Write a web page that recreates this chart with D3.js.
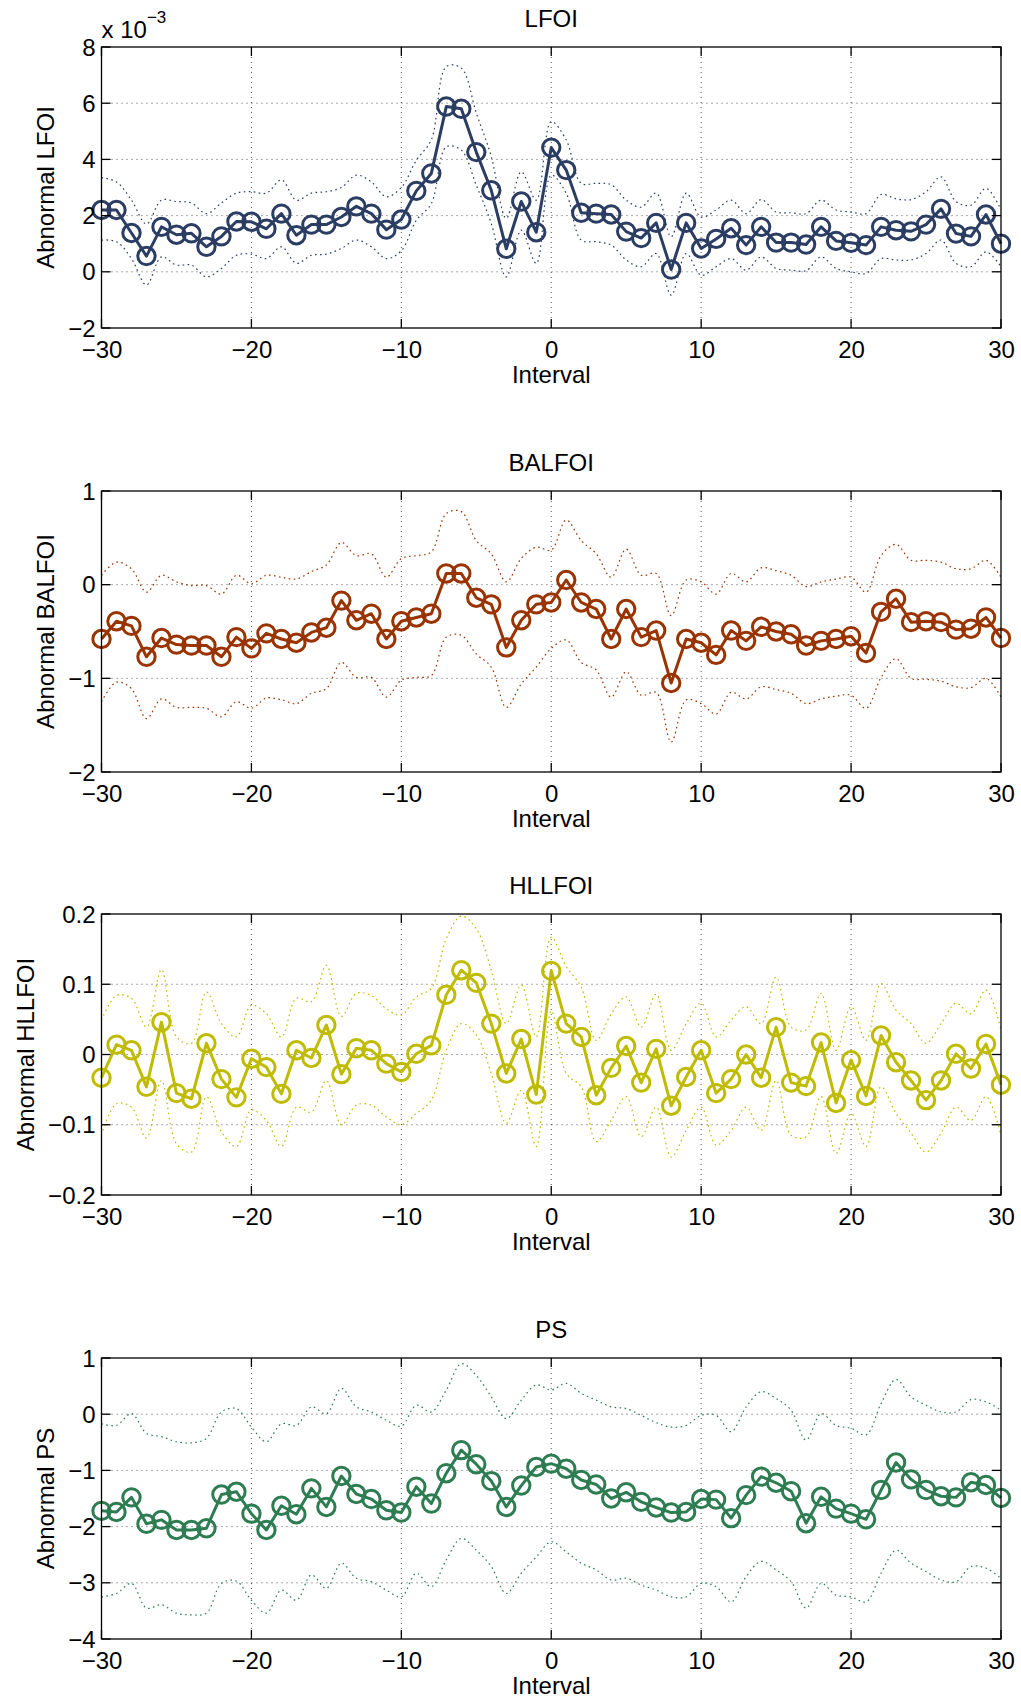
<!DOCTYPE html>
<html>
<head>
<meta charset="utf-8">
<script src="https://cdn.jsdelivr.net/npm/d3@7/dist/d3.min.js"></script>
<style>
  html, body { margin: 0; padding: 0; background: #fff; }
  svg text { font-family: "Liberation Sans", Arial, Helvetica, sans-serif; fill: #000; }
</style>
</head>
<body>
<svg id="fig" width="1021" height="1701"></svg>
<script>
// Interval axis shared by all four panels
const intervals = d3.range(-30, 31);
const xTicks = [-30, -20, -10, 0, 10, 20, 30];

// LFOI (values in units of 1e-3)
const lfoi = [2.2, 2.2, 1.38, 0.56, 1.6, 1.32, 1.37, 0.89, 1.26, 1.79, 1.78, 1.53, 2.07, 1.3, 1.68, 1.68,
  1.95, 2.33, 2.07, 1.5, 1.86, 2.88, 3.5, 5.88, 5.8, 4.26, 2.9, 0.82, 2.5, 1.41,
  4.42, 3.62, 2.1, 2.07, 2.04, 1.43, 1.2, 1.74, 0.08, 1.74, 0.83, 1.17, 1.55, 0.95, 1.6, 1.04,
  1.04, 0.97, 1.6, 1.1, 1.03, 0.95, 1.6, 1.48, 1.44, 1.68, 2.24, 1.36, 1.26, 2.04, 1.0];
const lfoiUpper = [3.35, 3.2, 2.55, 1.7, 2.55, 2.5, 2.45, 2.07, 2.45, 2.8, 2.85, 2.8, 3.27, 2.55, 2.8, 2.85,
  3.0, 3.44, 3.2, 2.67, 3.0, 3.97, 4.7, 7.3, 7.25, 5.65, 4.1, 1.9, 3.56, 2.55,
  5.34, 4.69, 3.15, 3.15, 3.1, 2.55, 2.3, 2.8, 1.25, 2.8, 1.95, 2.2, 2.55, 2.07, 2.57, 2.13,
  2.1, 2.07, 2.55, 2.2, 2.13, 2.07, 2.75, 2.6, 2.57, 2.85, 3.38, 2.5, 2.37, 2.97, 2.2];
const lfoiLower = [1.13, 1.07, 0.47, -0.47, 0.53, 0.24, 0.24, -0.18, 0.12, 0.59, 0.63, 0.47, 0.89, 0.3, 0.59, 0.63,
  0.83, 1.13, 0.89, 0.47, 0.75, 1.83, 2.43, 4.45, 4.33, 3.08, 1.72, -0.18, 1.48, 0.3,
  3.44, 2.79, 1.13, 1.07, 0.95, 0.42, 0.18, 0.65, -0.83, 0.65, -0.12, 0.18, 0.47, 0.06, 0.53, 0.12,
  0.06, 0.04, 0.53, 0.12, 0.0, -0.06, 0.47, 0.42, 0.42, 0.65, 1.13, 0.3, 0.18, 0.71, 0.18];

// BALFOI
const balfoi = [-0.58, -0.39, -0.44, -0.77, -0.57, -0.64, -0.65, -0.65, -0.77, -0.56, -0.68, -0.52, -0.58, -0.62, -0.51, -0.46,
  -0.17, -0.38, -0.31, -0.58, -0.39, -0.35, -0.31, 0.12, 0.12, -0.14, -0.21, -0.67, -0.38, -0.21,
  -0.19, 0.05, -0.19, -0.26, -0.58, -0.26, -0.56, -0.49, -1.05, -0.58, -0.62, -0.75, -0.49, -0.6, -0.45, -0.5,
  -0.53, -0.65, -0.6, -0.58, -0.55, -0.73, -0.29, -0.15, -0.4, -0.39, -0.4, -0.48, -0.47, -0.35, -0.57];
const balfoiUpper = [0.1, 0.24, 0.17, -0.08, 0.1, 0.03, -0.01, -0.01, -0.1, 0.1, 0.01, 0.1, 0.08, 0.06, 0.14, 0.21,
  0.45, 0.31, 0.33, 0.08, 0.28, 0.31, 0.35, 0.76, 0.78, 0.47, 0.33, 0.03, 0.28, 0.4,
  0.37, 0.69, 0.47, 0.33, 0.08, 0.38, 0.1, 0.12, -0.33, 0.05, 0.03, -0.1, 0.12, 0.03, 0.18, 0.15,
  0.1, -0.02, 0.03, 0.06, 0.08, -0.08, 0.31, 0.43, 0.26, 0.26, 0.24, 0.17, 0.17, 0.26, 0.08];
const balfoiLower = [-1.25, -1.04, -1.11, -1.43, -1.22, -1.31, -1.31, -1.32, -1.41, -1.25, -1.32, -1.21, -1.23, -1.27, -1.16, -1.11,
  -0.83, -0.99, -0.99, -1.2, -1.02, -0.99, -0.97, -0.56, -0.54, -0.74, -0.88, -1.31, -1.06, -0.88,
  -0.68, -0.59, -0.83, -0.91, -1.2, -0.93, -1.18, -1.15, -1.68, -1.23, -1.27, -1.38, -1.15, -1.22, -1.09, -1.12,
  -1.16, -1.27, -1.22, -1.19, -1.18, -1.32, -0.99, -0.79, -1.0, -1.01, -1.03, -1.09, -1.1, -1.0, -1.2];

// HLLFOI
const hllfoi = [-0.033, 0.014, 0.006, -0.046, 0.046, -0.055, -0.063, 0.016, -0.035, -0.061, -0.006, -0.018, -0.056, 0.006, -0.005, 0.042,
  -0.028, 0.009, 0.006, -0.013, -0.025, 0.001, 0.013, 0.085, 0.12, 0.102, 0.044, -0.027, 0.022, -0.057,
  0.119, 0.044, 0.025, -0.058, -0.019, 0.012, -0.04, 0.008, -0.073, -0.032, 0.006, -0.055, -0.035, 0.0, -0.033, 0.039,
  -0.04, -0.045, 0.017, -0.069, -0.008, -0.059, 0.027, -0.011, -0.037, -0.065, -0.037, 0.001, -0.02, 0.015, -0.043];
const hllfoiUpper = [0.049, 0.084, 0.08, 0.039, 0.121, 0.025, 0.016, 0.089, 0.044, 0.025, 0.07, 0.058, 0.025, 0.08, 0.075, 0.127,
  0.054, 0.087, 0.084, 0.065, 0.056, 0.082, 0.094, 0.165, 0.197, 0.179, 0.12, 0.044, 0.099, 0.025,
  0.167, 0.125, 0.096, 0.02, 0.058, 0.082, 0.039, 0.086, 0.006, 0.044, 0.073, 0.025, 0.049, 0.068, 0.044, 0.11,
  0.039, 0.035, 0.087, 0.006, 0.068, 0.02, 0.101, 0.063, 0.044, 0.016, 0.044, 0.073, 0.058, 0.092, 0.035];
const hllfoiLower = [-0.115, -0.07, -0.075, -0.119, -0.037, -0.127, -0.139, -0.06, -0.11, -0.131, -0.079, -0.094, -0.131, -0.075, -0.082, -0.037,
  -0.1, -0.072, -0.072, -0.089, -0.1, -0.084, -0.065, 0.006, 0.044, 0.028, -0.027, -0.098, -0.051, -0.131,
  0.062, -0.027, -0.046, -0.124, -0.094, -0.06, -0.117, -0.075, -0.146, -0.108, -0.075, -0.129, -0.108, -0.075, -0.108, -0.037,
  -0.115, -0.117, -0.06, -0.141, -0.084, -0.131, -0.046, -0.084, -0.112, -0.139, -0.112, -0.075, -0.094, -0.06, -0.115];

// PS
const ps = [-1.72, -1.74, -1.48, -1.95, -1.88, -2.06, -2.06, -2.03, -1.43, -1.38, -1.77, -2.06, -1.63, -1.78, -1.32, -1.65,
  -1.1, -1.42, -1.51, -1.71, -1.75, -1.29, -1.59, -1.05, -0.64, -0.89, -1.19, -1.65, -1.27, -0.94,
  -0.88, -0.97, -1.17, -1.25, -1.5, -1.39, -1.56, -1.66, -1.75, -1.74, -1.51, -1.52, -1.85, -1.44, -1.11, -1.22,
  -1.37, -1.94, -1.47, -1.68, -1.77, -1.87, -1.35, -0.86, -1.16, -1.35, -1.46, -1.48, -1.21, -1.26, -1.49];
const psUpper = [-0.17, -0.2, 0.01, -0.34, -0.4, -0.49, -0.51, -0.43, 0.04, 0.1, -0.23, -0.49, -0.17, -0.2, 0.13, 0.01,
  0.46, 0.13, 0.04, -0.11, -0.21, 0.16, 0.04, 0.43, 0.9, 0.69, 0.31, -0.08, 0.25, 0.52,
  0.43, 0.55, 0.37, 0.25, 0.13, 0.1, -0.02, -0.15, -0.23, -0.2, -0.02, -0.02, -0.31, 0.13, 0.4, 0.28,
  0.07, -0.46, 0.01, -0.2, -0.25, -0.37, 0.19, 0.62, 0.31, 0.16, 0.04, 0.04, 0.26, 0.22, 0.07];
const psLower = [-3.25, -3.19, -3.01, -3.45, -3.39, -3.54, -3.57, -3.54, -3.01, -2.97, -3.31, -3.54, -3.13, -3.31, -2.86, -3.1,
  -2.65, -2.92, -2.98, -3.13, -3.25, -2.83, -3.07, -2.59, -2.21, -2.42, -2.71, -3.19, -2.83, -2.54,
  -2.27, -2.45, -2.65, -2.77, -2.95, -2.92, -3.04, -3.13, -3.25, -3.25, -3.01, -3.07, -3.34, -2.89, -2.62, -2.77,
  -2.98, -3.45, -3.01, -3.22, -3.25, -3.34, -2.83, -2.42, -2.65, -2.8, -2.95, -2.98, -2.71, -2.74, -2.92];

// Y tick values per panel
const lfoiTicks = [-2, 0, 2, 4, 6, 8];
const balfoiTicks = [-2, -1, 0, 1];
const hllfoiTicks = [-0.2, -0.1, 0, 0.1, 0.2];
const psTicks = [-4, -3, -2, -1, 0, 1];

const panels = [
  { title: "LFOI", ylabel: "Abnormal LFOI", values: lfoi, upper: lfoiUpper, lower: lfoiLower,
    domain: [-2, 8], ticks: lfoiTicks, color: "#2b3d63", top: 47, exponent: "\u22123" },
  { title: "BALFOI", ylabel: "Abnormal BALFOI", values: balfoi, upper: balfoiUpper, lower: balfoiLower,
    domain: [-2, 1], ticks: balfoiTicks, color: "#993300", top: 491 },
  { title: "HLLFOI", ylabel: "Abnormal HLLFOI", values: hllfoi, upper: hllfoiUpper, lower: hllfoiLower,
    domain: [-0.2, 0.2], ticks: hllfoiTicks, color: "#bfbb00", top: 914 },
  { title: "PS", ylabel: "Abnormal PS", values: ps, upper: psUpper, lower: psLower,
    domain: [-4, 1], ticks: psTicks, color: "#2e7d52", top: 1358 }
];

const svg = d3.select("#fig");
const left = 101.5, right = 1001, plotH = 281;
const fontSize = 24, tickLen = 9;
const fmtTick = v => {
  const s = (Math.abs(v) < 1e-12 ? 0 : v).toString();
  return s.replace("-", "\u2212");
};

const x = d3.scaleLinear().domain([-30, 30]).range([left, right]);

panels.forEach(p => {
  const top = p.top, bottom = top + plotH;
  const y = d3.scaleLinear().domain(p.domain).range([bottom, top]);
  const g = svg.append("g");

  // dotted grid at major ticks
  const grid = g.append("g")
    .attr("stroke", "#000").attr("stroke-width", 0.9).attr("stroke-dasharray", "1,4").attr("fill", "none");
  xTicks.slice(1, -1).forEach(t => {
    grid.append("line").attr("x1", x(t)).attr("x2", x(t)).attr("y1", top).attr("y2", bottom).attr("stroke-opacity", 0.75);
  });
  p.ticks.slice(1, -1).forEach(t => {
    grid.append("line").attr("x1", left).attr("x2", right).attr("y1", y(t)).attr("y2", y(t)).attr("stroke-opacity", 0.75);
  });

  // confidence band, drawn as smooth dotted curves
  const band = d3.line().x((d, i) => x(intervals[i])).y(d => y(d)).curve(d3.curveCatmullRom.alpha(0.5));
  [p.upper, p.lower].forEach(arr => {
    g.append("path").datum(arr).attr("d", band)
      .attr("fill", "none").attr("stroke", p.color).attr("stroke-width", 1.2)
      .attr("stroke-dasharray", "1.6,3.4");
  });

  // series line with circle markers
  const line = d3.line().x((d, i) => x(intervals[i])).y(d => y(d));
  g.append("path").datum(p.values).attr("d", line)
    .attr("fill", "none").attr("stroke", p.color).attr("stroke-width", 3).attr("stroke-linejoin", "round");
  g.append("g").selectAll("circle").data(p.values).join("circle")
    .attr("cx", (d, i) => x(intervals[i])).attr("cy", d => y(d)).attr("r", 8.7)
    .attr("fill", "none").attr("stroke", p.color).attr("stroke-width", 3);

  // axes box with inward ticks on all four sides
  const frame = g.append("g").attr("stroke", "#000").attr("stroke-width", 1.3);
  frame.append("rect").attr("x", left).attr("y", top).attr("width", right - left).attr("height", plotH).attr("fill", "none");
  xTicks.forEach(t => {
    frame.append("line").attr("x1", x(t)).attr("x2", x(t)).attr("y1", bottom).attr("y2", bottom - tickLen);
    frame.append("line").attr("x1", x(t)).attr("x2", x(t)).attr("y1", top).attr("y2", top + tickLen);
  });
  p.ticks.forEach(t => {
    frame.append("line").attr("x1", left).attr("x2", left + tickLen).attr("y1", y(t)).attr("y2", y(t));
    frame.append("line").attr("x1", right).attr("x2", right - tickLen).attr("y1", y(t)).attr("y2", y(t));
  });

  // x tick labels via d3 axis generator (domain and tick lines hidden)
  const xAxisG = g.append("g").attr("transform", `translate(0,${bottom})`)
    .call(d3.axisBottom(x).tickValues(xTicks).tickSize(0).tickPadding(0).tickFormat(fmtTick));
  xAxisG.select(".domain").remove();
  xAxisG.selectAll("text").attr("font-size", fontSize).attr("dy", null).attr("y", 30)
    .style("font-family", '"Liberation Sans", Arial, sans-serif').attr("fill", "#000");

  // y tick labels
  const yAxisG = g.append("g").attr("transform", `translate(${left},0)`)
    .call(d3.axisLeft(y).tickValues(p.ticks).tickSize(0).tickPadding(0).tickFormat(fmtTick));
  yAxisG.select(".domain").remove();
  yAxisG.selectAll("text").attr("font-size", fontSize).attr("x", -6).attr("dy", "0.34em")
    .style("font-family", '"Liberation Sans", Arial, sans-serif').attr("fill", "#000");

  // y-axis label placed just left of the widest tick label
  let minX = Infinity;
  yAxisG.selectAll("text").each(function () {
    const b = this.getBBox();
    minX = Math.min(minX, left + b.x);
  });
  g.append("text")
    .attr("transform", `translate(${minX - 14},${(top + bottom) / 2}) rotate(-90)`)
    .attr("text-anchor", "middle").attr("font-size", fontSize).text(p.ylabel);

  // title and x-axis label
  g.append("text").attr("x", x(0)).attr("y", top - 20).attr("text-anchor", "middle")
    .attr("font-size", fontSize).text(p.title);
  g.append("text").attr("x", x(0)).attr("y", bottom + 55).attr("text-anchor", "middle")
    .attr("font-size", fontSize).text("Interval");

  // axis exponent label
  if (p.exponent) {
    const ex = g.append("text").attr("x", left).attr("y", top - 9).attr("font-size", fontSize);
    ex.append("tspan").text("x 10");
    ex.append("tspan").attr("dy", -15).attr("font-size", 17).text(p.exponent);
  }
});
</script>
</body>
</html>
